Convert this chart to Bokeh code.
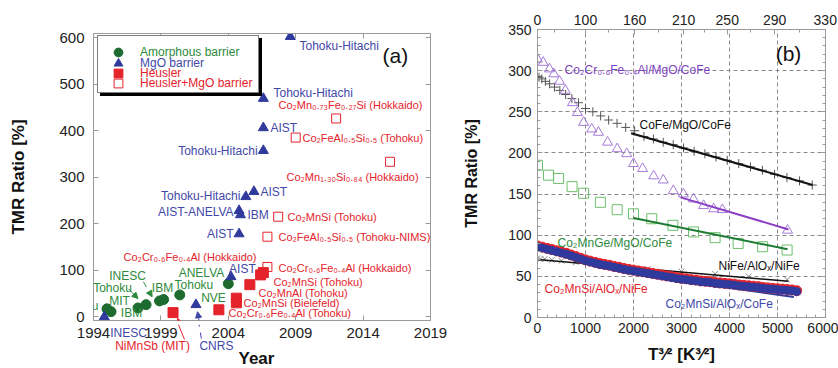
from bokeh.plotting import figure
from bokeh.layouts import row, column
from bokeh.models import (Label, Legend, LegendItem, LinearAxis, FixedTicker,
                          SingleIntervalTicker, Arrow, NormalHead, Range1d)
from bokeh.embed import file_html
from bokeh.resources import INLINE

FONT = "Liberation Sans"

# ---------------- panel (a) data ----------------
year_ticks = [1994, 1999, 2004, 2009, 2014, 2019]
tmr_ticks_a = [0, 100, 200, 300, 400, 500, 600]

amorph_year = [1995.0, 1995.3, 1997.3, 1997.9, 1998.9, 1999.2, 2000.4, 2004.0]
amorph_tmr = [17, 11, 19, 26, 34, 37, 47, 71]

mgo_year = [1994.8, 2001.6, 2004.2, 2004.8, 2004.8, 2004.9, 2005.3, 2005.9, 2006.6, 2006.6, 2006.6, 2008.6]
mgo_tmr = [0, 26, 86, 178, 228, 219, 258, 269, 357, 406, 469, 602]

heus_year = [1999.9, 2003.3, 2004.6, 2004.6, 2005.6, 2006.4, 2006.6]
heus_tmr = [9, 15, 30, 40, 69, 90, 95]

hmgo_year = [2006.9, 2006.9, 2007.7, 2009.0, 2012.0, 2016.0]
hmgo_tmr = [107, 172, 215, 385, 426, 333]

legend_names = ["Amorphous barrier", "MgO barrier", "Heusler", "Heusler+MgO barrier"]

labels_a = [
    "Tohoku", "MIT", "IBM", "Tohoku", "INESC", "IBM", "Tohoku", "ANELVA", "NVE",
    "AIST", "AIST", "AIST-ANELVA", "IBM", "Tohoku-Hitachi", "AIST",
    "Tohoku-Hitachi", "AIST", "Tohoku-Hitachi", "Tohoku-Hitachi",
    "Co₂Cr₀.₆Fe₀.₄Al (Tohoku)", "Co₂MnSi (Bielefeld)", "Co₂MnAl (Tohoku)",
    "Co₂MnSi (Tohoku)", "Co₂Cr₀.₆Fe₀.₄Al (Hokkaido)", "Co₂Cr₀.₆Fe₀.₄Al (Hokkaido)",
    "Co₂FeAl₀.₅Si₀.₅ (Tohoku-NIMS)", "Co₂MnSi (Tohoku)", "Co₂Mn₁.₃₀Si₀.₈₄ (Hokkaido)",
    "Co₂FeAl₀.₅Si₀.₅ (Tohoku)", "Co₂Mn₀.₇₃Fe₀.₂₇Si (Hokkaido)",
]
# texts that sit below the year axis
labels_a_below = ["INESC", "NiMnSb (MIT)", "CNRS", "Year"]

# ---------------- panel (b) data ----------------
top_T = [0, 100, 160, 210, 250, 290, 330]
top_T_minor = [50, 130, 185, 230, 270, 310]
tmr_ticks_b = [0, 50, 100, 150, 200, 250, 300, 350]

cofe_x = [0, 32, 89, 164, 253, 354, 465, 586, 716, 854, 1000, 1153, 1315, 1482, 1657, 1837, 2024,
          2217, 2415, 2619, 2828, 3043, 3263, 3488, 3718, 3953, 4193, 4437, 4686, 4939, 5196, 5459, 5724]
cofe_y = [293, 292, 290, 287, 284, 280, 276, 271, 266, 261, 254, 250, 245, 240, 236, 231, 227,
          220, 217, 213, 210, 206, 202, 199, 195, 191, 187, 183, 179, 174, 170, 166, 161]
cofe_fit_x = [1950, 5730]
cofe_fit_y = [224, 161]

ccfa_x = [0, 119, 250, 340, 460, 580, 730, 830, 960, 1130, 1270, 1460, 1660, 1860, 2000, 2190,
          2420, 2620, 2830, 3040, 3250, 3460, 3670, 3850, 5210]
ccfa_y = [314, 310, 302, 296, 287, 276, 261, 249, 237, 229, 225, 213, 205, 199, 187, 181,
          172, 167, 154, 150, 144, 136, 132, 131, 106]
ccfa_fit_x = [2980, 5230]
ccfa_fit_y = [146, 107]

cmg_x = [0, 230, 440, 720, 960, 1310, 1660, 2000, 2380, 2820, 3250, 3700, 4180, 4690, 5200]
cmg_y = [185, 173, 169, 159, 151, 140, 131, 126, 120, 112, 104, 97, 90, 86, 82]
cmg_fit_x = [2000, 5210]
cmg_fit_y = [121, 83]

nife_x = [0, 60, 150, 300, 500, 800, 1200, 1700, 2300, 3000, 3700, 4400, 5200]
nife_y = [72, 71, 71, 70, 69, 67, 65, 62, 59, 56, 53, 50, 46]
nife_fit_x = [0, 5230]
nife_fit_y = [70.5, 44]

cms_x = [0, 100, 200, 300, 400, 500, 600, 700, 800, 900, 1000, 1100, 1200, 1300, 1400, 1500,
         1600, 1700, 1800, 1900, 2000, 2100, 2200, 2300, 2400, 2500, 2600, 2700, 2800, 2900,
         3000, 3100, 3200, 3300, 3400, 3500, 3600, 3700, 3800, 3900, 4000, 4100, 4200, 4300,
         4400, 4500, 4600, 4700, 4800, 4900, 5000, 5100, 5200, 5300, 5400]
cms_nife_y = [87, 85.5, 84, 82.5, 81, 79.5, 78, 76, 74, 72, 70, 68.5, 67, 65.5, 64.5, 63.5,
              62, 61, 59.5, 58.5, 57.5, 56.5, 55.5, 54.5, 53.5, 52.5, 51.5, 50.5, 49.5, 48.5,
              47.5, 47, 46, 45.5, 44.5, 44, 43.5, 42.5, 42, 41.5, 41, 40.5, 39.5, 39,
              38.5, 38, 37.5, 36.5, 36, 35.5, 35, 34.5, 34, 33.5, 32.5]
cms_cofe_y = [86, 84.5, 83, 81.5, 80, 78.5, 77, 75, 73, 71, 69, 67.5, 66, 64.5, 63.5, 62.5,
              61, 60, 58.5, 57.5, 56.5, 55.5, 54.5, 53.5, 52.5, 51.5, 50.5, 49.5, 48.5, 47.5,
              46.5, 46, 45, 44.5, 43.5, 43, 42.5, 41.5, 41, 40.5, 40, 39.5, 38.5, 38,
              37.5, 37, 36.5, 35.5, 35, 34.5, 34, 33.5, 33, 32.5, 31.5]
cms_cofe_fit_x = [3000, 5340]
cms_cofe_fit_y = [44, 25]

labels_b = ["Co₂Cr₀.₆Fe₀.₄Al/MgO/CoFe", "CoFe/MgO/CoFe", "Co₂MnGe/MgO/CoFe",
            "NiFe/AlOₓ/NiFe", "Co₂MnSi/AlOₓ/NiFe", "Co₂MnSi/AlOₓ/CoFe"]

# ---------------- colours ----------------
GREEN_M = "#1d6b2f"
GREEN_T = "#2e8a3c"
BLUE_M = "#2f3a9c"
BLUE_T = "#3f48a8"
RED = "#e4232b"
PURPLE_M = "#a57ad8"
PURPLE_T = "#7d3fbf"
PURPLE_L = "#8c3fc4"
LGREEN = "#6cbf6c"
AXC = "#9a9a9a"


def style_axis(ax, size="14px", labels=True, minor=True, ticks=None):
    ax.axis_line_color = AXC
    ax.major_tick_line_color = AXC
    ax.minor_tick_line_color = AXC if minor else None
    ax.major_tick_in = 5
    ax.major_tick_out = 0
    ax.minor_tick_in = 3
    ax.minor_tick_out = 0
    ax.major_label_text_font = FONT
    ax.major_label_text_color = "#222222"
    ax.major_label_text_font_size = size
    if not labels:
        ax.major_label_overrides = {t: "" for t in ticks}
        ax.major_label_standoff = 0


def lab(p, text, x, y, color, size="12px", align="left", style="normal"):
    p.add_layout(Label(x=x, y=y, text=text, text_color=color, text_font=FONT,
                       text_font_size=size, text_align=align, text_baseline="middle",
                       text_font_style=style))


def arrow(p, xs, ys, xe, ye, c, dash, head=True):
    p.add_layout(Arrow(end=NormalHead(size=6, fill_color=c, line_color=c) if head else None,
                       x_start=xs, y_start=ys, x_end=xe, y_end=ye,
                       line_color=c, line_width=1, line_dash=dash))


# ======================= panel (a) =======================
pa = figure(width=450, height=324, x_range=Range1d(1994, 2019), y_range=Range1d(-8, 608.6),
            output_backend="svg", toolbar_location=None, frame_align=False,
            min_border_left=93, min_border_right=20, min_border_top=33, min_border_bottom=4)
pa.xgrid.visible = False
pa.ygrid.visible = False
pa.outline_line_color = AXC

xa = pa.xaxis[0]
xa.ticker = FixedTicker(ticks=year_ticks)
style_axis(xa, labels=False, minor=False, ticks=year_ticks)

ya = pa.yaxis[0]
ya.ticker = FixedTicker(ticks=tmr_ticks_a)
style_axis(ya, "15px", minor=False)
ya.major_label_standoff = 9
ya.axis_label = "TMR Ratio [%]"
ya.axis_label_text_font = FONT
ya.axis_label_text_font_size = "17px"
ya.axis_label_text_font_style = "bold"
ya.axis_label_text_color = "#111111"
ya.axis_label_standoff = 28

ax_top = LinearAxis(ticker=FixedTicker(ticks=year_ticks))
style_axis(ax_top, labels=False, minor=False, ticks=year_ticks)
pa.add_layout(ax_top, "above")
ax_right = LinearAxis(ticker=FixedTicker(ticks=tmr_ticks_a))
style_axis(ax_right, labels=False, minor=False, ticks=tmr_ticks_a)
pa.add_layout(ax_right, "right")

r_am = pa.scatter(amorph_year, amorph_tmr, marker="circle", size=10,
                  fill_color=GREEN_M, line_color=GREEN_M)
r_mg = pa.scatter(mgo_year, mgo_tmr, marker="triangle", size=10,
                  fill_color=BLUE_M, line_color=BLUE_M)
r_he = pa.scatter(heus_year, heus_tmr, marker="square", size=10,
                  fill_color=RED, line_color=RED)
r_hm = pa.scatter(hmgo_year, hmgo_tmr, marker="square", size=9,
                  fill_color=None, line_color=RED, line_width=1)

pos_a = [
    (1994.37, 23.7, "right", GREEN_T), (1995.93, 34.4, "center", GREEN_T),
    (1996.82, 8, "center", GREEN_T), (1995.41, 62.4, "center", GREEN_T),
    (1996.52, 88.2, "center", GREEN_T), (1999.12, 62.4, "center", GREEN_T),
    (2001.45, 68.8, "center", GREEN_T), (2002.01, 94.6, "center", GREEN_T),
    (2002.9, 40.9, "center", GREEN_T),
    (2005.05, 103, "center", BLUE_T), (2004.39, 178.5, "right", BLUE_T),
    (2004.39, 226, "right", BLUE_T), (2005.42, 219, "left", BLUE_T),
    (2004.9, 260, "right", BLUE_T), (2006.39, 269, "left", BLUE_T),
    (2006.17, 357, "right", BLUE_T), (2007.13, 406, "left", BLUE_T),
    (2007.35, 480, "left", BLUE_T), (2009.28, 581, "left", BLUE_T),
    (2004.01, 8.6, "left", RED),
    (2005.13, 30, "left", RED), (2006.24, 51.6, "left", RED),
    (2007.35, 75.3, "left", RED), (1996.23, 129, "left", RED),
    (2007.72, 105.4, "left", RED), (2007.72, 172, "left", RED),
    (2008.39, 215, "left", RED), (2008.32, 301, "left", RED),
    (2009.5, 385, "left", RED), (2007.72, 456, "left", RED),
]
for t, (x, y, al, c) in zip(labels_a, pos_a):
    size = "11px" if c == RED else "12px"
    lab(pa, t, x, y, c, size, al)

lab(pa, "(a)", 2016.4, 561, "#111111", "21px", "center")

arrow(pa, 1996.6, 60, 1997.3, 39, GREEN_T, "solid")
arrow(pa, 1997.7, 75, 1998.35, 43, GREEN_T, "dashed")
arrow(pa, 2001.83, -8, 2001.72, 10.8, BLUE_T, "dashed")
arrow(pa, 2000.3, -8, 2000.23, -3, RED, "solid")

# legend (box + shadow + colored rows)
dummy = pa.scatter(x=[], y=[], marker="circle", size=1, fill_alpha=0, line_alpha=0)


def box_legend(loc, bg):
    return Legend(items=[LegendItem(label=" ", renderers=[dummy])],
                  location=loc, padding=7, spacing=0, margin=0, label_width=20,
                  glyph_width=126, glyph_height=42, label_height=42, label_standoff=0,
                  label_text_font=FONT, label_text_font_size="12px",
                  border_line_color="black", border_line_width=1.5,
                  background_fill_color=bg, background_fill_alpha=1)


pa.add_layout(box_legend((7, 224), "black"))
pa.add_layout(box_legend((4, 227), "white"))

row_rend = [r_am, r_mg, r_he, r_hm]
row_col = [GREEN_T, BLUE_T, RED, RED]
row_bot = [257, 246, 236, 226]
for name, r, c, yb in zip(legend_names, row_rend, row_col, row_bot):
    pa.add_layout(Legend(items=[LegendItem(label=name, renderers=[r])], location=(14, yb),
                         padding=0, spacing=0, margin=0, glyph_width=22, glyph_height=22,
                         label_height=22, label_standoff=11, label_text_font=FONT,
                         label_text_font_size="12px", label_text_color=c,
                         border_line_color=None, background_fill_alpha=0))

# strip under panel (a): year tick labels and the texts below the axis
pa2 = figure(width=450, height=44, x_range=Range1d(1991.552, 2020.484), y_range=Range1d(0, 44),
             output_backend="svg", toolbar_location=None, frame_align=False,
             x_axis_location=None, y_axis_location=None,
             min_border_left=60, min_border_right=0, min_border_top=0, min_border_bottom=0)
pa2.xgrid.visible = False
pa2.ygrid.visible = False
pa2.outline_line_color = None
for yr in year_ticks:
    lab(pa2, str(yr), yr, 36, "#222222", "15px", "center")
pos_below = [(1996.6, 36, BLUE_T, "12px", "normal"), (1998.38, 23, RED, "12px", "normal"),
             (2003.12, 23, BLUE_T, "12px", "normal"), (2006.09, 10, "#111111", "17px", "bold")]
for t, (x, y, c, s, st) in zip(labels_a_below, pos_below):
    lab(pa2, t, x, y, c, s, "center", st)
arrow(pa2, 2000.75, 29, 2000.3, 44, RED, "solid", head=False)
arrow(pa2, 2002.0, 30, 2001.83, 44, BLUE_T, "dashed", head=False)

# ======================= panel (b) =======================
pb = figure(width=388, height=368, x_range=Range1d(0, 6000), y_range=Range1d(0, 350),
            output_backend="svg", toolbar_location=None, frame_align=False,
            min_border_left=87, min_border_right=13, min_border_top=29, min_border_bottom=51)
pb.outline_line_color = AXC
xb = pb.xaxis[0]
xb.ticker = SingleIntervalTicker(interval=1000, num_minor_ticks=5)
style_axis(xb, "14px")
xb.major_label_standoff = 5
xb.axis_label = "T³⁄² [K³⁄²]"
xb.axis_label_text_font = FONT
xb.axis_label_text_font_size = "17px"
xb.axis_label_text_font_style = "bold"
xb.axis_label_text_color = "#111111"
xb.axis_label_standoff = 9

yb_ax = pb.yaxis[0]
yb_ax.ticker = SingleIntervalTicker(interval=50, num_minor_ticks=5)
style_axis(yb_ax, "14px")
yb_ax.major_label_standoff = 6
yb_ax.axis_label = "TMR Ratio [%]"
yb_ax.axis_label_text_font = FONT
yb_ax.axis_label_text_font_size = "16px"
yb_ax.axis_label_text_font_style = "bold"
yb_ax.axis_label_text_color = "#111111"
yb_ax.axis_label_standoff = 25

top_pos = [round(t ** 1.5) for t in top_T]
top_minor = [round(t ** 1.5) for t in top_T_minor]
ax_tb = LinearAxis(ticker=FixedTicker(ticks=top_pos, minor_ticks=top_minor),
                   major_label_overrides={p_: str(t) for p_, t in zip(top_pos, top_T)})
style_axis(ax_tb, "14px")
ax_tb.major_label_standoff = 5
pb.add_layout(ax_tb, "above")
ax_rb = LinearAxis(ticker=SingleIntervalTicker(interval=50, num_minor_ticks=5))
style_axis(ax_rb, labels=False, ticks=tmr_ticks_b)
pb.add_layout(ax_rb, "right")

for g in (pb.xgrid[0], pb.ygrid[0]):
    g.grid_line_color = "#8a8a8a"
    g.grid_line_dash = "4 3"
    g.grid_line_width = 1

pb.scatter(cofe_x, cofe_y, marker="cross", size=9, line_color="#555555", line_width=1)
pb.line(cofe_fit_x, cofe_fit_y, line_color="#111111", line_width=2)
pb.scatter(ccfa_x, ccfa_y, marker="triangle", size=10, fill_color=None,
           line_color=PURPLE_M, line_width=1)
pb.line(ccfa_fit_x, ccfa_fit_y, line_color=PURPLE_L, line_width=2)
pb.scatter(cmg_x, cmg_y, marker="square", size=10, fill_color=None,
           line_color=LGREEN, line_width=1)
pb.line(cmg_fit_x, cmg_fit_y, line_color="#1e7b32", line_width=2)
pb.scatter(nife_x, nife_y, marker="x", size=8, line_color="#8a8a8a", line_width=1)
pb.line(nife_fit_x, nife_fit_y, line_color="#111111", line_width=1.5)
pb.line(cms_cofe_fit_x, cms_cofe_fit_y, line_color=BLUE_M, line_width=2)
pb.scatter(cms_x, cms_nife_y, marker="circle", size=10, fill_color=RED, line_color=RED)
pb.scatter(cms_x, cms_cofe_y, marker="circle", size=8, fill_color=BLUE_M, line_color=BLUE_M)

pos_b = [(562, 301, PURPLE_T), (2125, 234.5, "#111111"), (417, 90, GREEN_T),
         (3771, 63, "#111111"), (146, 35, RED), (2667, 17, BLUE_T)]
for t, (x, y, c) in zip(labels_b, pos_b):
    lab(pb, t, x, y, c, "12px", "left")

lab(pb, "(b)", 5229, 321, "#111111", "21px", "center")

layout = row(column(pa, pa2), pb)
open("out.html", "w").write(file_html(layout, INLINE))
